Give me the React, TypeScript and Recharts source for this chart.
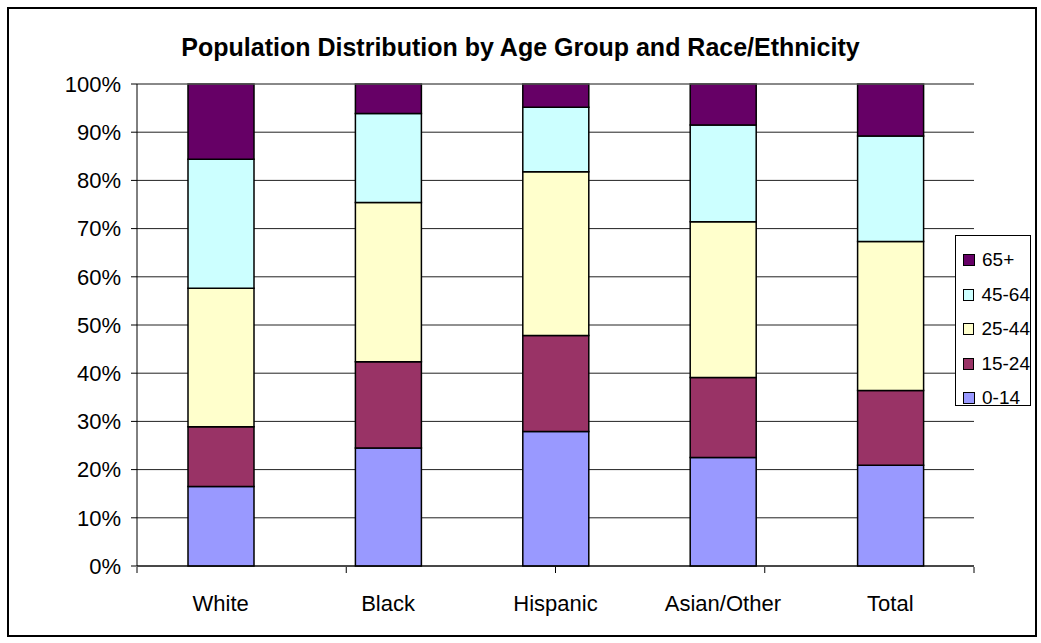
import {
  BarChart,
  Bar,
  XAxis,
  YAxis,
  CartesianGrid,
  Legend,
  ReferenceLine
} from "recharts";

const categories = ["White", "Black", "Hispanic", "Asian/Other", "Total"];
const age0to14 = [16.5, 24.5, 27.9, 22.5, 20.9];
const age15to24 = [12.4, 17.9, 19.9, 16.6, 15.5];
const age25to44 = [28.7, 33.0, 34.0, 32.3, 30.9];
const age45to64 = [26.8, 18.5, 13.4, 20.1, 21.9];
const age65plus = [15.6, 6.1, 4.8, 8.5, 10.8];
const yTicks = [0, 10, 20, 30, 40, 50, 60, 70, 80, 90, 100];
const edgeTicks = [0, 1, 2, 3, 4, 5];

const series = [
  { key: "0-14", values: age0to14, color: "#9999FF" },
  { key: "15-24", values: age15to24, color: "#993366" },
  { key: "25-44", values: age25to44, color: "#FFFFCC" },
  { key: "45-64", values: age45to64, color: "#CCFFFF" },
  { key: "65+", values: age65plus, color: "#660066" },
];

const data = categories.map((name, i) => {
  const row: Record<string, string | number> = { name };
  series.forEach((s) => (row[s.key] = s.values[i]));
  return row;
});

const FONT = "'Liberation Sans', Arial, sans-serif";

// Excel style legend: boxed, reversed so 65+ is on top
function AgeLegend({ payload }: any) {
  const items = [...(payload || [])].reverse();
  return (
    <div
      style={{
        border: "1px solid #000",
        background: "#fff",
        boxSizing: "border-box",
        width: "100%",
        height: "100%",
        padding: "7px 0 0 7px",
        fontFamily: FONT,
        fontSize: 19,
        whiteSpace: "nowrap",
      }}
    >
      {items.map((item: any) => (
        <div key={item.value} style={{ display: "flex", alignItems: "center", height: 34.5 }}>
          <span
            style={{
              display: "inline-block",
              width: 10,
              height: 10,
              background: item.color,
              border: "1px solid #000",
              marginRight: 7,
            }}
          />
          <span style={{ color: "#000" }}>{item.value}</span>
        </div>
      ))}
    </div>
  );
}

export default function App() {
  return (
    <div style={{ position: "absolute", left: 0, top: 0, width: 1041, height: 643, background: "#fff" }}>
      <div
        style={{
          position: "absolute",
          left: 7,
          top: 7,
          width: 1030,
          height: 630,
          border: "2px solid #000",
          boxSizing: "border-box",
        }}
      />
      <div
        style={{
          position: "absolute",
          left: 0,
          top: 33,
          width: 1041,
          textAlign: "center",
          fontFamily: FONT,
          fontWeight: "bold",
          fontSize: 25,
          color: "#000",
        }}
      >
        Population Distribution by Age Group and Race/Ethnicity
      </div>
      <div style={{ position: "absolute", left: 0, top: 0 }}>
        <BarChart
          width={1041}
          height={643}
          data={data}
          margin={{ top: 84, right: 67, left: 0, bottom: 75 }}
          barSize={66}
        >
          <CartesianGrid xAxisId="cat" vertical={false} stroke="#222" />
          <XAxis
            xAxisId="cat"
            dataKey="name"
            height={1}
            axisLine={{ stroke: "#000" }}
            tickLine={false}
            tickSize={6}
            tickMargin={23}
            tick={{ fill: "#000", fontSize: 22, fontFamily: FONT }}
            interval={0}
          />
          {/* tick marks sit between the categories, as in Excel */}
          <XAxis
            xAxisId="edge"
            type="number"
            domain={[0, 5]}
            ticks={edgeTicks}
            interval={0}
            allowDataOverflow
            height={1}
            axisLine={false}
            tick={() => <g />}
            tickSize={6}
            tickLine={{ stroke: "#000" }}
          />
          <YAxis
            domain={[0, 100]}
            ticks={yTicks}
            width={137}
            interval={0}
            tickFormatter={(v) => `${v}%`}
            axisLine={{ stroke: "#000" }}
            tickLine={{ stroke: "#000" }}
            tickSize={6}
            tickMargin={10}
            tick={{ fill: "#000", fontSize: 22, fontFamily: FONT }}
          />
          <YAxis
            yAxisId="r"
            orientation="right"
            domain={[0, 100]}
            width={0}
            tick={false}
            tickLine={false}
            axisLine={{ stroke: "#808080" }}
          />
          <ReferenceLine xAxisId="cat" y={100} stroke="#808080" />
          {series.map((s) => (
            <Bar
              key={s.key}
              xAxisId="cat"
              dataKey={s.key}
              stackId="a"
              fill={s.color}
              stroke="#000"
              strokeWidth={1.5}
              isAnimationActive={false}
            />
          ))}
          <Legend
            layout="horizontal"
            align="center"
            verticalAlign="middle"
            content={<AgeLegend />}
            wrapperStyle={{ left: 955, top: 235, width: 76, height: 171 }}
          />
        </BarChart>
      </div>
    </div>
  );
}
